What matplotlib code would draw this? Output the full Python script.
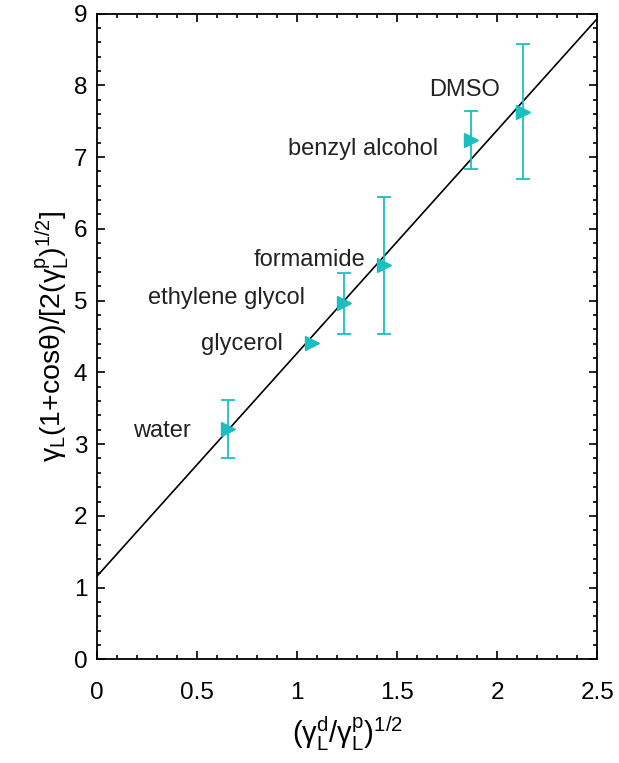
import numpy as np
import matplotlib.pyplot as plt
from matplotlib.ticker import MultipleLocator

plt.rcParams['font.family'] = ['Liberation Sans', 'DejaVu Sans']
plt.rcParams['mathtext.fontset'] = 'custom'
plt.rcParams['mathtext.rm'] = 'Liberation Sans'
plt.rcParams['mathtext.it'] = 'Liberation Sans'

# probe liquids: x = (gamma_d/gamma_p)^1/2, y = gamma(1+cos)/[2(gamma_p)^1/2]
liquids = ['water', 'glycerol', 'ethylene glycol', 'formamide', 'benzyl alcohol', 'DMSO']
x_vals = [0.652, 1.072, 1.234, 1.433, 1.870, 2.127]
y_vals = [3.21, 4.41, 4.96, 5.49, 7.24, 7.63]
y_err = [0.41, 0.0, 0.43, 0.96, 0.40, 0.94]

# label anchors (right end, baseline)
label_x = [0.467, 0.93, 1.04, 1.343, 1.705, 2.014]
label_y = [3.10, 4.31, 4.95, 5.48, 7.03, 7.85]

# linear fit
intercept = 1.163
slope = 3.107

color = '#1cbfbf'

fig = plt.figure(figsize=(6.19, 7.63), dpi=100)
ax = fig.add_axes([0.157, 0.1357, 0.808, 0.8466])

xf = np.array([0, 2.5])
ax.plot(xf, intercept + slope * xf, color='black', lw=1.2, zorder=2)

ax.errorbar(x_vals, y_vals, yerr=y_err, fmt='>', color=color, ms=9.5,
            elinewidth=1.3, capsize=5, capthick=1.3, zorder=3)

for name, lx, ly in zip(liquids, label_x, label_y):
    ax.text(lx, ly, name, ha='right', va='baseline', fontsize=17, color='#222222')

ax.set_xlim(0, 2.5)
ax.set_ylim(0, 9)
ax.xaxis.set_minor_locator(MultipleLocator(0.1))
ax.yaxis.set_major_locator(MultipleLocator(1))
ax.yaxis.set_minor_locator(MultipleLocator(0.2))
ax.set_xticks([0, 0.5, 1, 1.5, 2, 2.5])
ax.set_xticklabels(['0', '0.5', '1', '1.5', '2', '2.5'])
ax.tick_params(which='both', direction='in', top=True, right=True, labelsize=17.5, width=1.2)
ax.tick_params(which='major', length=6)
ax.tick_params(which='minor', length=3)
ax.tick_params(axis='x', which='major', pad=16)
ax.tick_params(axis='y', which='major', pad=7)
for s in ax.spines.values():
    s.set_linewidth(1.3)

ax.set_xlabel(r'$\mathregular{(γ_L^d/γ_L^p)^{1/2}}$', fontsize=21, labelpad=8)
ax.set_ylabel(r'$\mathregular{γ_L(1{+}cosθ)/[2(γ_L^p)^{1/2}]}$', fontsize=20.5, labelpad=2)

fig.savefig('out.png', dpi=100)
